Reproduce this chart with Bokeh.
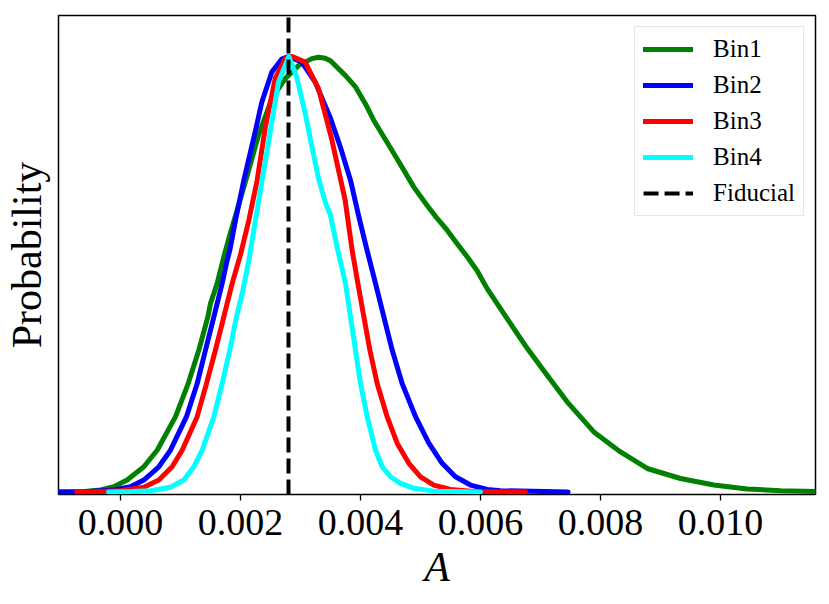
from bokeh.plotting import figure
from bokeh.models import Range1d, FixedTicker, Legend, LegendItem
from bokeh.embed import file_html
from bokeh.resources import INLINE

# ---- data ----
bin1_x = [-0.00105, -0.0006, -0.000333, -0.000111, 0.000111, 0.000389, 0.000611, 0.000917, 0.001128,
          0.001306, 0.001456, 0.0015, 0.001611, 0.001722, 0.00182, 0.00209, 0.0023, 0.002522, 0.002745,
          0.002967, 0.003189, 0.0033, 0.003411, 0.0035, 0.00375, 0.003917, 0.004083, 0.004222,
          0.004389, 0.004556, 0.004722, 0.004889, 0.005111, 0.005278, 0.005444, 0.005611, 0.005778,
          0.005944, 0.006111, 0.006444, 0.006778, 0.007111, 0.007444, 0.007889, 0.008333, 0.008778,
          0.009333, 0.009889, 0.010444, 0.011, 0.0116]
bin1_y = [0.0, 0.001, 0.0046, 0.012, 0.0275, 0.058, 0.096, 0.173, 0.249, 0.326, 0.402, 0.433, 0.479,
          0.540, 0.589, 0.716, 0.819, 0.903, 0.949, 0.979, 0.995, 0.998, 0.996, 0.990, 0.956, 0.930,
          0.891, 0.853, 0.815, 0.777, 0.739, 0.700, 0.658, 0.628, 0.601, 0.570, 0.540, 0.508, 0.467,
          0.398, 0.330, 0.268, 0.207, 0.138, 0.092, 0.054, 0.031, 0.016, 0.007, 0.003, 0.001]

bin2_x = [-0.00105, -0.0006, -0.000111, 0.000167, 0.000389, 0.000639, 0.000833, 0.0011, 0.001278,
          0.001417, 0.001556, 0.001694, 0.001778, 0.001822, 0.001917, 0.002056, 0.00225, 0.002355,
          0.002522, 0.002688, 0.002806, 0.003022, 0.003245, 0.0035, 0.003667, 0.003833, 0.003967,
          0.0041, 0.00425, 0.004389, 0.004528, 0.004694, 0.004917, 0.005139, 0.005361, 0.005583,
          0.005833, 0.006111, 0.006333, 0.00746]
bin2_y = [0.0, 0.0005, 0.0046, 0.012, 0.0275, 0.058, 0.096, 0.173, 0.249, 0.326, 0.402, 0.479, 0.532,
          0.555, 0.624, 0.716, 0.830, 0.895, 0.964, 0.994, 1.0, 0.987, 0.941, 0.858, 0.791, 0.716,
          0.635, 0.560, 0.479, 0.402, 0.326, 0.249, 0.173, 0.112, 0.066, 0.035, 0.016, 0.006, 0.003,
          0.0]

bin3_x = [-0.00073, -0.0003, 0.0, 0.000389, 0.000639, 0.000861, 0.001028, 0.001278, 0.001433,
          0.001583, 0.001722, 0.001861, 0.002, 0.002139, 0.002278, 0.002414, 0.002578, 0.002745,
          0.002861, 0.003078, 0.0033, 0.003517, 0.003744, 0.003861, 0.003956, 0.004056, 0.004156,
          0.004278, 0.004444, 0.004611, 0.004806, 0.005, 0.005222, 0.0055, 0.005889, 0.00675]
bin3_y = [0.0, 0.001, 0.003, 0.011, 0.0275, 0.058, 0.096, 0.173, 0.249, 0.326, 0.402, 0.479, 0.545,
          0.624, 0.716, 0.838, 0.949, 0.995, 1.0, 0.987, 0.926, 0.812, 0.670, 0.555, 0.479, 0.402,
          0.326, 0.249, 0.173, 0.112, 0.066, 0.035, 0.016, 0.006, 0.001, 0.0]

bin4_x = [-0.0002, 0.0002, 0.0005, 0.000833, 0.001056, 0.001222, 0.001361, 0.001556, 0.001694,
          0.001822, 0.001933, 0.002036, 0.002139, 0.00225, 0.002361, 0.002472, 0.002633, 0.002806,
          0.002933, 0.003078, 0.00318, 0.0033, 0.003411, 0.0035, 0.003567, 0.003622, 0.00375,
          0.003833, 0.003917, 0.004, 0.004111, 0.00425, 0.004361, 0.0045, 0.004667, 0.004889,
          0.005222, 0.006]
bin4_y = [0.0, 0.001, 0.003, 0.011, 0.0275, 0.058, 0.096, 0.173, 0.249, 0.326, 0.402, 0.460, 0.532,
          0.624, 0.716, 0.807, 0.941, 1.0, 0.955, 0.870, 0.800, 0.720, 0.666, 0.635, 0.590, 0.555,
          0.479, 0.402, 0.326, 0.249, 0.173, 0.096, 0.058, 0.035, 0.020, 0.0085, 0.002, 0.0]

fiducial = 0.0028

series_names = ["Bin1", "Bin2", "Bin3", "Bin4"]
series_colors = ["#008000", "#0000ff", "#ff0000", "#00ffff"]

tick_values = [0.0, 0.002, 0.004, 0.006, 0.008, 0.010]
tick_labels = ["0.000", "0.002", "0.004", "0.006", "0.008", "0.010"]

x_lo, x_hi = -0.0010333, 0.0115833
y_lo, y_hi = -0.0057, 1.094

# ---- figure ----
FONT = "Liberation Serif"
p = figure(width=829, height=604, output_backend="svg", toolbar_location=None,
           x_range=Range1d(x_lo, x_hi), y_range=Range1d(y_lo, y_hi),
           min_border_left=58, min_border_right=14, min_border_top=15, min_border_bottom=110)
p.background_fill_color = "white"
p.border_fill_color = "white"
p.outline_line_color = "black"
p.outline_line_width = 1.5
p.grid.visible = False

xs = [bin1_x, bin2_x, bin3_x, bin4_x]
ys = [bin1_y, bin2_y, bin3_y, bin4_y]
items = []
for name, col, xv, yv in zip(series_names, series_colors, xs, ys):
    r = p.line(xv, yv, line_color=col, line_width=5, line_join="round", line_cap="round")
    items.append(LegendItem(label=name, renderers=[r]))

rf = p.line([fiducial, fiducial], [y_lo, y_hi], line_color="black", line_width=4,
            line_dash="15 6")
items.append(LegendItem(label="Fiducial", renderers=[rf]))

legend = Legend(items=items, location="top_right",
                label_text_font=FONT, label_text_font_style="normal",
                label_text_font_size="25px", label_text_color="black",
                glyph_width=50, glyph_height=28, label_height=28, label_standoff=20,
                spacing=8, padding=8, margin=11,
                border_line_color="#cccccc", border_line_width=1.5,
                background_fill_color="white", background_fill_alpha=0.85)
p.add_layout(legend)

# x axis
xa = p.xaxis[0]
xa.ticker = FixedTicker(ticks=tick_values)
xa.major_label_overrides = {v: s for v, s in zip(tick_values, tick_labels)}
xa.major_label_text_font = FONT
xa.major_label_text_font_size = "38px"
xa.major_label_text_color = "black"
xa.major_label_standoff = 9
xa.major_tick_out = 6
xa.major_tick_in = 0
xa.major_tick_line_width = 1.3
xa.minor_tick_line_color = None
xa.axis_line_color = None
xa.axis_label = "A"
xa.axis_label_text_font = FONT
xa.axis_label_text_font_style = "italic"
xa.axis_label_text_font_size = "42px"
xa.axis_label_text_color = "black"
xa.axis_label_standoff = 6

# y axis
ya = p.yaxis[0]
ya.ticker = FixedTicker(ticks=[])
ya.major_tick_out = 0
ya.major_tick_in = 0
ya.minor_tick_line_color = None
ya.axis_line_color = None
ya.major_label_text_font_size = "0px"
ya.axis_label = "Probability"
ya.axis_label_text_font = FONT
ya.axis_label_text_font_style = "normal"
ya.axis_label_text_font_size = "42px"
ya.axis_label_text_color = "black"
ya.axis_label_standoff = 9

open("out.html", "w").write(file_html(p, INLINE))
